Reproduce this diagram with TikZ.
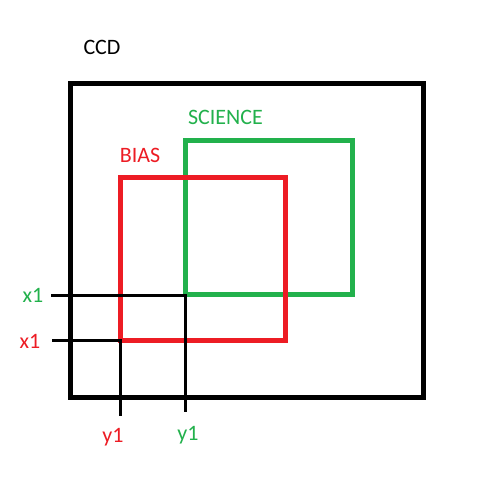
\documentclass[tikz,border=0pt]{standalone}
\usepackage{fontspec}
\setmainfont{Carlito}
\definecolor{pred}{RGB}{237,28,36}
\definecolor{pgreen}{RGB}{34,177,76}
\begin{document}
\begin{tikzpicture}[x=1pt,y=-1pt,
  box/.style={line width=5pt},
  guide/.style={line width=3pt,black},
  lbl/.style={font=\fontsize{22}{26}\selectfont,inner sep=0pt}]
\useasboundingbox (0,0) rectangle (488,500);
\fill[white] (0,0) rectangle (488,500);
% CCD
\draw[box,black] (70.5,84) rectangle (423,397);
\node[lbl] (ccd) at (102,47) {CCD};
% Science
\draw[box,pgreen] (185.5,140.5) rectangle (352.5,294.5);
\node[lbl,text=pgreen] (sci) at (225.5,117) {SCIENCE};
% Bias
\draw[box,pred] (120.5,177.5) rectangle (285,340.5);
\node[lbl,text=pred] (bias) at (140,155) {BIAS};
% guide coordinates
\coordinate (gx0) at (51,295);
\coordinate (gc) at (185.5,295);
\coordinate (gy1) at (185.5,412);
\coordinate (rx0) at (52,340.5);
\coordinate (rc) at (120.5,340.5);
\coordinate (ry1) at (120.5,416);
\draw[guide] (gx0) -- (gc) -- (gy1);
\draw[guide] (rx0) -- (rc) -- (ry1);
\node[lbl,text=pgreen] (gx) at (33,295) {x1};
\node[lbl,text=pred] (rx) at (30,341) {x1};
\node[lbl,text=pred] (ry) at (113,437) {y1};
\node[lbl,text=pgreen] (gy) at (188,435) {y1};
\end{tikzpicture}
\end{document}
